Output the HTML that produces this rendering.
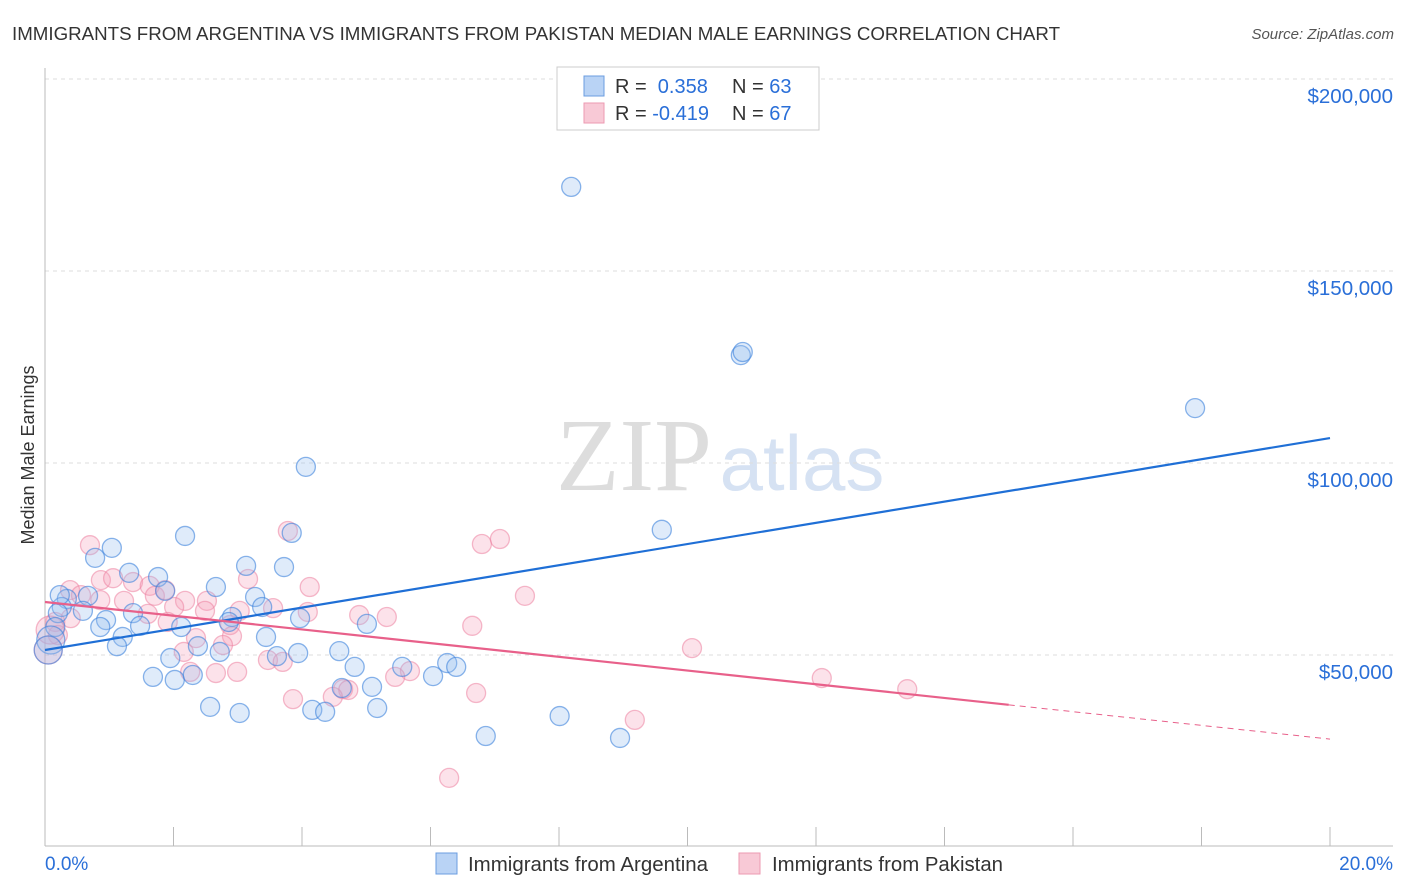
<!DOCTYPE html>
<html><head><meta charset="utf-8"><style>
body{margin:0;background:#fff;font-family:"Liberation Sans",sans-serif}
#wrap{position:relative;width:1406px;height:892px;overflow:hidden}
</style></head><body>
<div id="wrap">
<svg id="svg" width="1406" height="892" xmlns="http://www.w3.org/2000/svg">
<text x="12" y="40" font-size="18" fill="#333" textLength="1048" lengthAdjust="spacingAndGlyphs">IMMIGRANTS FROM ARGENTINA VS IMMIGRANTS FROM PAKISTAN MEDIAN MALE EARNINGS CORRELATION CHART</text>
<text x="1394" y="39" font-size="15" fill="#555" font-style="italic" text-anchor="end">Source: ZipAtlas.com</text>
<text x="634" y="490" font-size="104" fill="#ddd" font-family="Liberation Serif,serif" text-anchor="middle">ZIP</text>
<text x="802" y="490" font-size="78" fill="#d6e2f3" text-anchor="middle">atlas</text>
<text transform="translate(34,455) rotate(-90)" font-size="18" fill="#333" text-anchor="middle">Median Male Earnings</text>
<g id="grid"></g><g id="pts"></g><g id="lines"></g>
<g>
<rect x="557" y="67" width="262" height="63" fill="#fff" stroke="#ccc"/>
<rect x="584" y="76" width="20" height="20" fill="#b9d3f5" stroke="#6b9de0"/>
<rect x="584" y="103" width="20" height="20" fill="#f8c9d6" stroke="#ec9ab2"/>
<text x="615" y="93" font-size="20" fill="#333">R = <tspan fill="#2a6fd8">&#160;0.358</tspan><tspan x="732">N = </tspan><tspan fill="#2a6fd8">63</tspan></text>
<text x="615" y="120" font-size="20" fill="#333">R = <tspan fill="#2a6fd8">-0.419</tspan><tspan x="732">N = </tspan><tspan fill="#2a6fd8">67</tspan></text>
</g>
<g>
<rect x="436" y="853" width="21" height="21" fill="#b9d3f5" stroke="#6b9de0"/>
<text x="468" y="871" font-size="20" fill="#333" textLength="240" lengthAdjust="spacingAndGlyphs">Immigrants from Argentina</text>
<rect x="739" y="853" width="21" height="21" fill="#f8c9d6" stroke="#ec9ab2"/>
<text x="772" y="871" font-size="20" fill="#333" textLength="231" lengthAdjust="spacingAndGlyphs">Immigrants from Pakistan</text>
</g>
<text x="45" y="870" font-size="19" fill="#2a6fd8">0.0%</text>
<text x="1393" y="870" font-size="19" fill="#2a6fd8" text-anchor="end">20.0%</text>
</svg></div>
<script>
const yTicks=[50000,100000,150000,200000];
const yTickLabels=["$50,000","$100,000","$150,000","$200,000"];
const argX=[8.19,10.83,10.86,17.90,4.06,9.60,2.18,3.84,1.04,0.78,3.13,3.72,1.31,1.76,2.66,1.87,0.34,0.67,3.27,0.26,0.59,0.20,0.95,1.37,3.38,2.91,3.97,2.86,5.01,0.16,0.86,1.48,2.12,1.21,3.44,0.09,1.12,2.38,2.72,3.61,3.94,4.58,1.95,6.26,4.82,5.56,6.40,1.68,2.02,2.30,6.04,4.62,5.09,2.57,4.16,5.17,3.03,4.36,8.01,6.86,8.95,0.05,0.23];
const argY=[171.9,128.1,128.9,114.3,99.0,82.6,81.0,81.8,77.9,75.3,73.2,72.9,71.4,70.3,67.7,66.7,64.6,65.4,65.1,62.5,61.5,60.9,59.1,60.9,62.5,59.9,59.6,58.6,58.1,57.3,57.3,57.6,57.3,54.7,54.7,53.9,52.3,52.3,50.8,49.7,50.5,51.0,49.2,47.9,46.9,46.9,46.9,44.3,43.5,44.8,44.5,41.4,41.7,36.5,35.7,36.2,34.9,35.2,34.1,28.9,28.4,51.3,65.6];
const pakX=[0.70,3.78,6.80,7.08,0.39,0.87,1.06,1.37,3.16,4.12,1.63,7.47,0.56,0.86,1.23,1.71,2.18,2.52,2.01,2.49,3.03,3.55,4.09,2.88,4.89,5.32,1.60,1.91,0.40,0.16,6.65,2.35,2.91,2.77,10.07,3.47,3.70,5.68,5.45,2.26,2.66,2.99,12.09,13.42,6.71,4.64,4.72,4.48,3.86,9.18,6.29,0.05,0.20,0.08,1.87,2.16];
const pakY=[78.6,82.3,78.9,80.2,66.9,69.5,70.0,69.0,69.8,67.7,68.0,65.4,65.6,64.3,64.1,65.4,64.1,64.1,62.5,61.5,61.5,62.2,61.2,57.8,60.4,59.9,60.7,58.6,59.6,58.6,57.6,54.4,54.9,52.6,51.8,48.7,48.2,45.8,44.3,45.6,45.3,45.6,44.0,41.1,40.1,41.1,40.9,39.1,38.5,33.1,18.0,51.3,55.2,56.5,66.9,50.8];
const argTrend=[51.3,106.5];
const pakTrend=[63.8,28.1];
const pakSolidEnd=15.0;
const NS='http://www.w3.org/2000/svg';
const X=v=>45+v/20*1285;
const Y=v=>847-v/50000*192;
const Yk=v=>Y(v*1000);
function mk(tag,attrs,parent){const e=document.createElementNS(NS,tag);for(const k in attrs)e.setAttribute(k,attrs[k]);parent.appendChild(e);return e;}
const grid=document.getElementById('grid');
yTicks.forEach((t,i)=>{
 const l=mk('line',{x1:45,x2:1393,y1:Y(t),y2:Y(t),stroke:'#ddd','stroke-dasharray':'4,4'},grid);
 
 
 const tx=mk('text',{x:1393,y:Y(t)+24,'font-size':20.5,fill:'#2a6fd8','text-anchor':'end'},grid);
 tx.textContent=yTickLabels[i];
 
 
});
mk('line',{x1:45,x2:45,y1:68,y2:846,stroke:'#bbb'},grid);
mk('line',{x1:45,x2:1393,y1:846,y2:846,stroke:'#bbb'},grid);
for(let i=0;i<=10;i++){const tk=mk('line',{x1:X(i*2),x2:X(i*2),y1:827,y2:846,stroke:'#bbb'},grid);
 
 }
const pts=document.getElementById('pts');
pakX.forEach((x,i)=>{const c=mk('circle',{cx:X(x),cy:Yk(pakY[i]),r:(x<0.1?14:9.5),fill:'rgba(244,160,185,0.3)',stroke:'rgba(236,130,160,0.55)','stroke-width':1.3},pts);
 
 });
argX.forEach((x,i)=>{const c=mk('circle',{cx:X(x),cy:Yk(argY[i]),r:(x<0.1?14:9.5),fill:'rgba(150,190,240,0.3)',stroke:'rgba(60,130,220,0.6)','stroke-width':1.3},pts);
 
 });
const lines=document.getElementById('lines');
const bl=mk('line',{x1:X(0),y1:Yk(argTrend[0]),x2:X(20),y2:Yk(argTrend[1]),stroke:'#1f6fd6','stroke-width':2.2},lines);


const pm=pakTrend[0]+(pakTrend[1]-pakTrend[0])*pakSolidEnd/20;
const pl=mk('line',{x1:X(0),y1:Yk(pakTrend[0]),x2:X(pakSolidEnd),y2:Yk(pm),stroke:'#e8608a','stroke-width':2.2},lines);


const pd=mk('line',{x1:X(pakSolidEnd),y1:Yk(pm),x2:X(20),y2:Yk(pakTrend[1]),stroke:'#e8608a','stroke-width':1,'stroke-dasharray':'6,5'},lines);


</script>
</body></html>
